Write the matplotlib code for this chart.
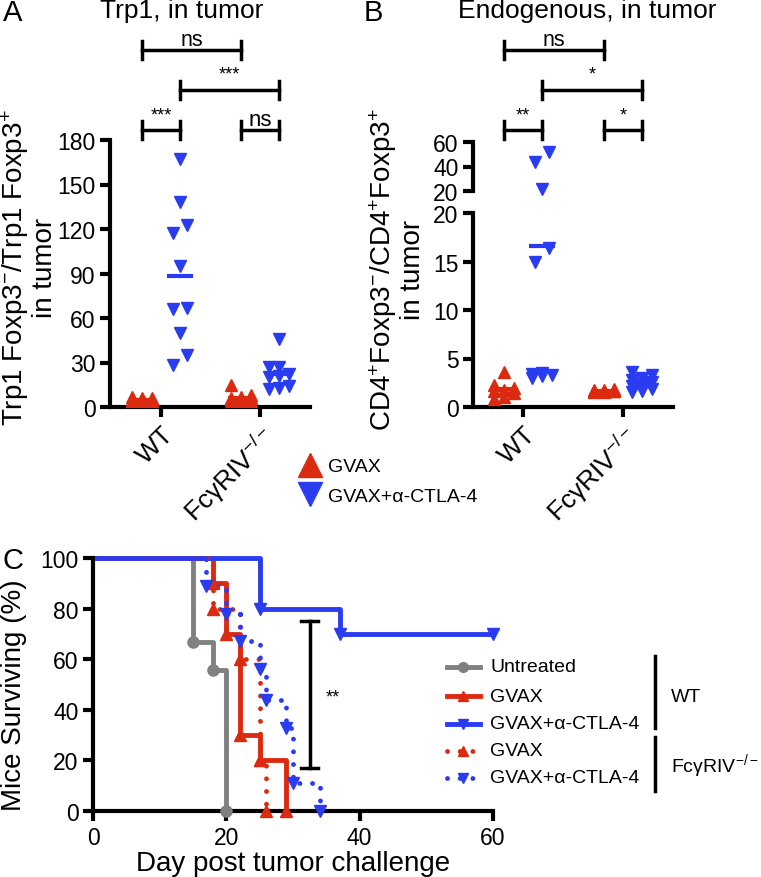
import matplotlib
matplotlib.use("Agg")
import matplotlib.pyplot as plt
import numpy as np
from matplotlib.lines import Line2D
from matplotlib.transforms import blended_transform_factory

plt.rcParams['font.family'] = ['Liberation Sans', 'DejaVu Sans']
plt.rcParams['mathtext.fontset'] = 'custom'
plt.rcParams['mathtext.rm'] = 'Liberation Sans'
plt.rcParams['mathtext.it'] = 'Liberation Sans:italic'
plt.rcParams['mathtext.bf'] = 'Liberation Sans:bold'

RED = '#dc2a10'
BLUE = '#2a3cf0'
GREY = '#808080'

groups = ['WT', 'FcγRIV$^{-/-}$']

# panel A: Trp1 ratio in tumor
a_wt_gvax = [3, 4, 4, 5, 5, 6, 6, 7, 5, 4]
a_wt_ctla = [167, 138, 123, 117, 95, 66, 67, 50, 35, 28]
a_ko_gvax = [15, 8, 6, 5, 4, 4, 3, 5, 6, 7]
a_ko_ctla = [46, 27, 27, 22, 21, 20, 14, 12, 13]

# panel B: endogenous ratio in tumor
b_wt_gvax = [3.6, 2.3, 2.0, 1.8, 1.6, 1.4, 1.0, 0.8]
b_wt_ctla = [52, 44, 22, 16.4, 15, 3.5, 3.3, 3.2, 3.0, 3.4]
b_ko_gvax = [1.9, 1.8, 1.7, 1.7, 1.6, 1.5, 1.5, 1.8, 1.6]
b_ko_ctla = [3.6, 3.3, 3.0, 2.8, 2.6, 2.4, 2.2, 1.9, 1.6, 1.5]

# panel C: survival (Kaplan-Meier steps)
untr_t = [0, 15, 18, 20]
untr_s = [100, 66.7, 55.6, 0]
wt_gvax_t = [0, 18, 20, 22, 25, 29]
wt_gvax_s = [100, 90, 70, 30, 20, 0]
wt_ctla_t = [0, 25, 37, 60]
wt_ctla_s = [100, 80, 70, 70]
ko_gvax_t = [0, 18, 22, 25, 26]
ko_gvax_s = [100, 80, 60, 20, 0]
ko_ctla_t = [0, 17, 20, 22, 25, 26, 29, 30, 34]
ko_ctla_s = [100, 89, 78, 67, 56, 44, 33, 11, 0]

W, H = 761, 878
fig = plt.figure(figsize=(W / 100, H / 100), dpi=100)


def box(l, t, r, b):
    return [l / W, 1 - b / H, (r - l) / W, (b - t) / H]


def fy(py):
    return 1 - py / H


def spread(px, thr=14, dx=0.14, w=0.1):
    # side-by-side placement of points that would overlap (pixel space)
    px = np.asarray(px, dtype=float)
    order = np.argsort(px)
    sv = px[order]
    offs = np.zeros(len(px))
    clusters, cur = [], [0]
    for i in range(1, len(sv)):
        if sv[i] - sv[i - 1] < thr:
            cur.append(i)
        else:
            clusters.append(cur)
            cur = [i]
    clusters.append(cur)
    for c in clusters:
        n = len(c)
        if n == 2:
            offs[c] = [-dx / 2, dx / 2]
        elif n > 2:
            offs[c] = [(k % 3 - 1) * w for k in range(n)]
    out = np.zeros(len(px))
    out[order] = offs
    return out


def style(ax, bottom=True):
    for s in ['top', 'right']:
        ax.spines[s].set_visible(False)
    ax.spines['left'].set_linewidth(3)
    ax.spines['bottom'].set_linewidth(3)
    if not bottom:
        ax.spines['bottom'].set_visible(False)
    ax.tick_params(width=3, length=7, labelsize=16.5, direction='out')


def dots(ax, x, vals, color, marker, to_px, mask=None, mean=True, clip=True):
    v = np.asarray(vals, dtype=float)
    offs = spread(to_px(v))
    sel = np.ones(len(v), bool) if mask is None else mask(v)
    ax.plot(x + offs[sel], v[sel], ls='none', marker=marker, ms=8.5,
            color=color, mec=color, clip_on=clip, zorder=3)
    if mean:
        ax.plot([x - 0.13, x + 0.13], [v.mean()] * 2, color=color, lw=3,
                solid_capstyle='butt', zorder=4)


def bracket(ax, x0, x1, py, label, fs, ty, va='center'):
    tr = blended_transform_factory(ax.transData, fig.transFigure)
    h = 9 / H
    y = fy(py)
    kw = dict(color='black', lw=2.5, transform=tr, clip_on=False)
    ax.plot([x0, x1], [y, y], **kw)
    ax.plot([x0, x0], [y - h, y + h], **kw)
    ax.plot([x1, x1], [y - h, y + h], **kw)
    ax.text((x0 + x1) / 2, fy(ty), label, transform=tr, ha='center',
            va=va, fontsize=fs)


off = 0.19
pxA = lambda v: v * 267 / 180
pxB = lambda v: np.where(v <= 20, v * 9.7, 216 + (v - 20) * 49 / 40)

# ---------------- Panel A ----------------
axA = fig.add_axes(box(110, 141, 310, 408))
style(axA)
axA.set_xlim(-0.515, 1.505)
axA.set_ylim(0, 180)
axA.set_yticks([0, 30, 60, 90, 120, 150, 180])
axA.set_xticks([0, 1])
axA.set_xticklabels(groups, rotation=45, ha='right', rotation_mode='anchor',
                    fontsize=19)
dots(axA, 0 - off, a_wt_gvax, RED, '^', pxA)
dots(axA, 0 + off, a_wt_ctla, BLUE, 'v', pxA)
dots(axA, 1 - off, a_ko_gvax, RED, '^', pxA)
dots(axA, 1 + off, a_ko_ctla, BLUE, 'v', pxA)
bracket(axA, -off, 1 - off, 51, 'ns', 15.5, 46, 'baseline')
bracket(axA, off, 1 + off, 91, '***', 13, 75)
bracket(axA, -off, off, 131, '***', 13, 116)
bracket(axA, 1 - off, 1 + off, 131, 'ns', 16, 120)
fig.text(58 / W, fy(268), 'Trp1 Foxp3$^{-}$/Trp1 Foxp3$^{+}$\nin tumor',
         rotation=90, ha='right', va='center', multialignment='center',
         fontsize=20, linespacing=1.05)

# ---------------- Panel B ----------------
axBu = fig.add_axes(box(473, 143, 673, 192))
axBl = fig.add_axes(box(473, 214, 673, 408))
style(axBu, bottom=False)
style(axBl)
for ax in (axBu, axBl):
    ax.set_xlim(-0.5, 1.5)
axBu.set_ylim(20, 60)
axBu.set_yticks([20, 40, 60])
axBu.set_xticks([])
axBl.set_ylim(0, 20)
axBl.set_yticks([0, 5, 10, 15, 20])
axBl.set_xticks([0, 1])
axBl.set_xticklabels(groups, rotation=45, ha='right', rotation_mode='anchor',
                     fontsize=19)
hi = lambda v: v > 20
lo = lambda v: v <= 20
for ax, m, clip in ((axBu, hi, False), (axBl, lo, True)):
    dots(ax, 0 - off, b_wt_gvax, RED, '^', pxB, m, ax is axBl, clip)
    dots(ax, 0 + off, b_wt_ctla, BLUE, 'v', pxB, m, ax is axBl, clip)
    dots(ax, 1 - off, b_ko_gvax, RED, '^', pxB, m, ax is axBl, clip)
    dots(ax, 1 + off, b_ko_ctla, BLUE, 'v', pxB, m, ax is axBl, clip)
bracket(axBl, -off, 1 - off, 51, 'ns', 15.5, 46, 'baseline')
bracket(axBl, off, 1 + off, 91, '*', 13, 75)
bracket(axBl, -off, off, 131, '**', 13, 116)
bracket(axBl, 1 - off, 1 + off, 131, '*', 13, 116)
fig.text(426 / W, fy(270),
         'CD4$^{+}$Foxp3$^{-}$/CD4$^{+}$Foxp3$^{+}$\nin tumor',
         rotation=90, ha='right', va='center', multialignment='center',
         fontsize=20, linespacing=1.05)

# titles / letters
fig.text(3 / W, fy(-1), 'A', fontsize=21, va='top')
fig.text(364 / W, fy(-1), 'B', fontsize=21, va='top')
fig.text(182 / W, fy(-1), 'Trp1, in tumor', fontsize=19, va='top',
         ha='center')
fig.text(587 / W, fy(-1), 'Endogenous, in tumor', fontsize=19, va='top',
         ha='center')

# middle legend
fig.add_artist(Line2D([310 / W], [fy(466)], marker='^', ms=17, color=RED,
                      ls='none', transform=fig.transFigure))
fig.add_artist(Line2D([310 / W], [fy(495)], marker='v', ms=17, color=BLUE,
                      ls='none', transform=fig.transFigure))
fig.text(328 / W, fy(468), 'GVAX', fontsize=14, va='center')
fig.text(328 / W, fy(497), 'GVAX+α-CTLA-4', fontsize=14, va='center')

# ---------------- Panel C ----------------
axC = fig.add_axes(box(93, 559, 493, 812))
style(axC)
axC.set_xlim(0, 60)
axC.set_ylim(0, 100)
axC.set_xticks([0, 20, 40, 60])
axC.set_yticks([0, 20, 40, 60, 80, 100])
axC.set_xlabel('Day post tumor challenge', fontsize=20)
axC.set_ylabel('Mice Surviving (%)', fontsize=20)
axC.xaxis.set_label_coords(0.5, -0.155)
axC.yaxis.set_label_coords(-0.165, 0.46)

dotted = (0, (0.01, 2.6))
curves = [
    (untr_t, untr_s, GREY, '-', 'o'),
    (wt_gvax_t, wt_gvax_s, RED, '-', '^'),
    (wt_ctla_t, wt_ctla_s, BLUE, '-', 'v'),
    (ko_gvax_t, ko_gvax_s, RED, dotted, '^'),
    (ko_ctla_t, ko_ctla_s, BLUE, dotted, 'v'),
]
for t, s, c, ls, mk in curves:
    axC.step(t, s, where='post', color=c, ls=ls, lw=3.5,
             dash_capstyle='round', solid_capstyle='butt', clip_on=False,
             zorder=2)
    axC.plot(t[1:], s[1:], ls='none', marker=mk, ms=8, color=c, clip_on=False,
             zorder=3)

axC.plot([32.5, 32.5], [17, 75], color='black', lw=2.5)
axC.plot([31.2, 33.8], [75, 75], color='black', lw=2.5)
axC.plot([31.2, 33.8], [17, 17], color='black', lw=2.5)
axC.text(36, 45, '**', fontsize=13, ha='center', va='center')

# legend C
labels = ['Untreated', 'GVAX', 'GVAX+α-CTLA-4', 'GVAX', 'GVAX+α-CTLA-4']
rows = [668, 697, 725, 752, 779]
for (t, s, c, ls, mk), lab, py in zip(curves, labels, rows):
    fig.add_artist(Line2D([447 / W, 480 / W], [fy(py)] * 2, color=c, ls=ls,
                          lw=3.5, dash_capstyle='round',
                          transform=fig.transFigure))
    fig.add_artist(Line2D([463.5 / W], [fy(py)], marker=mk, ms=7, color=c,
                          ls='none', transform=fig.transFigure))
    fig.text(490 / W, fy(py), lab, fontsize=14, va='center')
fig.add_artist(Line2D([655 / W] * 2, [fy(657), fy(729)], color='black', lw=2.5,
                      transform=fig.transFigure))
fig.add_artist(Line2D([655 / W] * 2, [fy(738), fy(792)], color='black', lw=2.5,
                      transform=fig.transFigure))
fig.text(671 / W, fy(697), 'WT', fontsize=14, va='center')
fig.text(671 / W, fy(766), 'FcγRIV$^{-/-}$', fontsize=14, va='center')
fig.text(2 / W, fy(547), 'C', fontsize=21, va='top')

fig.savefig('out.png', dpi=100)
